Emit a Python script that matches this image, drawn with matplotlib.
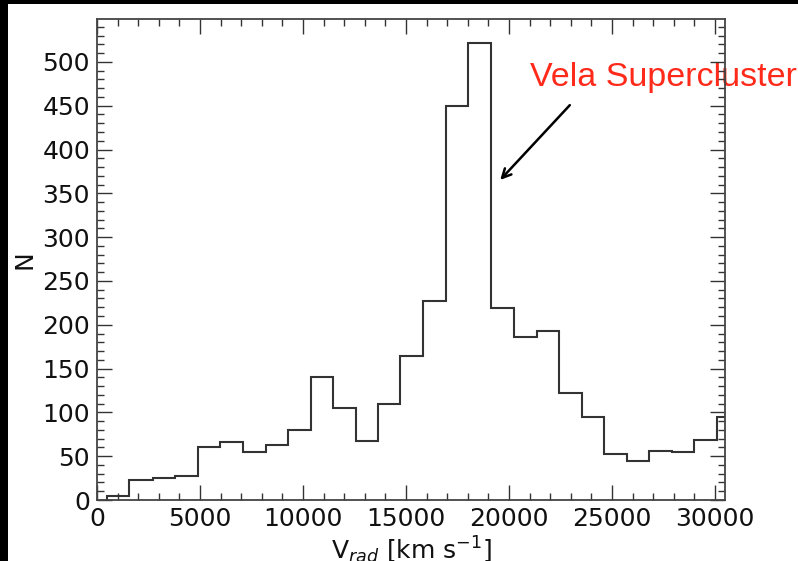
import numpy as np
import matplotlib.pyplot as plt
from matplotlib.patches import Rectangle
from matplotlib.ticker import MultipleLocator


# bin edges [km/s] and counts
edges = [470, 1568, 2704, 3786, 4917, 5971, 7073, 8189, 9257, 10374, 11471,
         12558, 13655, 14709, 15840, 16942, 18024, 19126, 20243, 21345, 22427,
         23529, 24626, 25714, 26811, 27898, 28981, 30083, 31180]
counts = [5, 23, 25, 27, 60, 66, 55, 63, 80, 140, 105, 67, 110, 164, 227,
          450, 522, 219, 186, 193, 122, 95, 53, 44, 56, 55, 69, 95]

label_text = 'Vela Supercluster'
arrow_tip = (19481, 363)
arrow_tail = (23044, 453)
label_pos = (21019, 472)

W, H = 798, 561
fig = plt.figure(figsize=(W / 100, H / 100), dpi=100, facecolor='black')
# white page with black strips on top and left, like the screenshot
fig.patches.append(Rectangle((8 / W, 0), 1 - 8 / W, 1 - 4 / H,
                             transform=fig.transFigure, facecolor='white',
                             edgecolor='none', zorder=-10))

ax = fig.add_axes([97 / W, 1 - 500 / H, 628 / W, 481 / H])
ax.set_facecolor('white')

ax.stairs(counts, edges, color='#333333', lw=1.5)

ax.set_xlim(0, 30485)
ax.set_ylim(0, 549)

ax.xaxis.set_major_locator(MultipleLocator(5000))
ax.xaxis.set_minor_locator(MultipleLocator(1000))
ax.yaxis.set_major_locator(MultipleLocator(50))
ax.yaxis.set_minor_locator(MultipleLocator(10))
ax.tick_params(which='both', direction='in', top=True, right=True,
               color='#333333', width=1.0, labelsize=18, labelcolor='#111111')
ax.tick_params(which='major', length=10.5, pad=5)
ax.tick_params(which='minor', length=5)
ax.tick_params(axis='y', which='major', pad=5)
for s in ax.spines.values():
    s.set_color('#444444')
    s.set_linewidth(1.3)

ax.set_ylabel('N', fontsize=18, color='#111111')
ax.yaxis.set_label_coords(-0.097, 0.5)
ax.set_xlabel(r'V$_{rad}$ [km s$^{-1}$]', fontsize=18, color='#111111')
ax.xaxis.set_label_coords(0.5, -59 / 481)
ax.xaxis.label.set_verticalalignment('baseline')

ax.annotate('', xy=arrow_tip, xytext=arrow_tail,
            arrowprops=dict(arrowstyle='->', color='black', lw=1.8,
                            mutation_scale=16))
ax.text(label_pos[0], label_pos[1], label_text, color='#ff2a1a', fontsize=24.5,
        family='Liberation Sans', clip_on=False, zorder=1)

fig.savefig('out.png', dpi=100, facecolor=fig.get_facecolor())
